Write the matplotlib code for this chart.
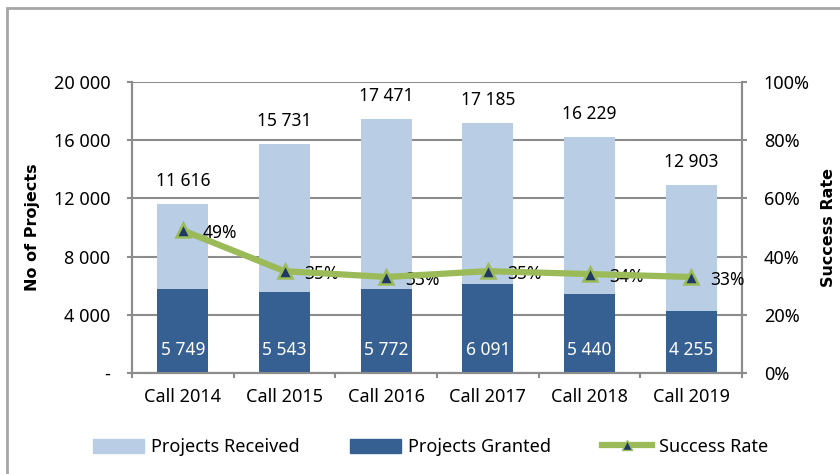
import matplotlib.pyplot as plt
from matplotlib.patches import Rectangle
from matplotlib.lines import Line2D
import matplotlib.ticker as mticker
import numpy as np

calls = ["Call 2014", "Call 2015", "Call 2016", "Call 2017", "Call 2018", "Call 2019"]
received = [11616, 15731, 17471, 17185, 16229, 12903]
granted = [5749, 5543, 5772, 6091, 5440, 4255]
successRate = [0.49, 0.35, 0.33, 0.35, 0.34, 0.33]

lightBlue = "#B9CDE5"
darkBlue = "#376092"
green = "#9BBB59"
navy = "#1F3864"
gridGray = "#8C8C8C"

def spaced(v):
    return "{:,}".format(int(v)).replace(",", " ")

plt.rcParams["font.family"] = ["Noto Sans", "DejaVu Sans"]
fs = 13
fig = plt.figure(figsize=(8.4, 4.74), dpi=100)
ax = fig.add_axes([132/840, 1-373/474, 610/840, 291/474])
ax2 = ax.twinx()

x = np.arange(len(calls))
ax.bar(x, received, width=0.5, color=lightBlue, zorder=2)
ax.bar(x, granted, width=0.5, color=darkBlue, zorder=3)
for i in range(len(calls)):
    ax.annotate(spaced(received[i]), (x[i], received[i]), xytext=(0, 10), textcoords="offset points",
                ha="center", va="bottom", fontsize=12.5)
    ax.annotate(spaced(granted[i]), (x[i], 0), xytext=(0, 16.5), textcoords="offset points",
                ha="center", va="center", fontsize=12.5, color="white", zorder=4)

ax.set_xlim(-0.5, len(calls)-0.5)
ax.set_ylim(0, 20000)
ax.set_yticks(np.arange(0, 20001, 4000))
ax.yaxis.set_major_formatter(mticker.FuncFormatter(lambda v, p: "-" if v == 0 else spaced(v)))
ax.set_xticks(x)
ax.set_xticklabels(calls)
ax.set_xticks(np.arange(-0.5, len(calls), 1), minor=True)
ax.tick_params(axis="x", which="major", length=0, labelsize=fs, pad=11)
ax.tick_params(axis="x", which="minor", length=3.6, color=gridGray, width=1.5)
ax.tick_params(axis="y", length=3.6, color=gridGray, width=1.5, labelsize=fs, pad=12)
ax.yaxis.grid(True, color=gridGray, linewidth=1.5, zorder=0)
ax.set_axisbelow(True)
ax.set_ylabel("No of Projects", family="DejaVu Sans", fontsize=11.5, fontweight="bold", labelpad=10)

ax2.plot(x, successRate, color=green, linewidth=4.5, marker="^", markersize=10,
         markerfacecolor=navy, markeredgecolor=green, markeredgewidth=1.8, zorder=5)
for i in range(len(calls)):
    ax2.annotate("{:.0%}".format(successRate[i]), (x[i], successRate[i]), xytext=(14, -2),
                 textcoords="offset points", ha="left", va="center", fontsize=12.5)
ax2.set_ylim(0, 1)
ax2.set_yticks(np.arange(0, 1.01, 0.2))
ax2.yaxis.set_major_formatter(mticker.FuncFormatter(lambda v, p: "{:.0%}".format(v)))
ax2.tick_params(axis="y", length=3.6, color=gridGray, width=1.5, labelsize=fs, pad=12)
ax2.set_ylabel("Success Rate", family="DejaVu Sans", fontsize=11.5, fontweight="bold", labelpad=8)

for a in (ax, ax2):
    for s in a.spines.values():
        s.set_color(gridGray)
        s.set_linewidth(1.5)
    a.spines["top"].set_visible(False)

handles = [Rectangle((0, 0), 1, 1, color=lightBlue),
           Rectangle((0, 0), 1, 1, color=darkBlue),
           Line2D([], [], color=green, linewidth=4.5, marker="^", markersize=7,
                  markerfacecolor=navy, markeredgecolor=green)]
fig.legend(handles, ["Projects Received", "Projects Granted", "Success Rate"],
           loc="center", bbox_to_anchor=(431/840, 1-447/474), ncol=3, frameon=False,
           fontsize=fs, handlelength=2.8, handleheight=0.8, handletextpad=0.4, columnspacing=2.8)

fig.patches.append(Rectangle((7/840, -0.1), 2, 1-8/474+0.1, transform=fig.transFigure,
                             fill=False, edgecolor="#A6A6A6", linewidth=2))

plt.savefig("out.png", dpi=100)
